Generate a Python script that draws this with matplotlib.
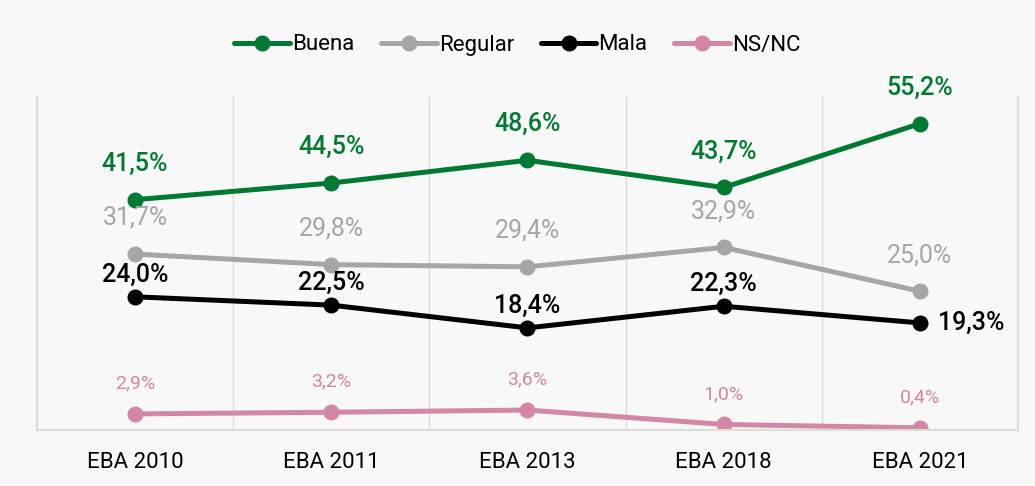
import matplotlib.pyplot as plt
import numpy as np

years = ['EBA 2010', 'EBA 2011', 'EBA 2013', 'EBA 2018', 'EBA 2021']
buena = [41.5, 44.5, 48.6, 43.7, 55.2]
regular = [31.7, 29.8, 29.4, 32.9, 25.0]
mala = [24.0, 22.5, 18.4, 22.3, 19.3]
nsnc = [2.9, 3.2, 3.6, 1.0, 0.4]

plt.rcParams['font.family'] = ['Roboto', 'DejaVu Sans']

fig = plt.figure(figsize=(10.35, 4.86), dpi=100, facecolor='#f8f8f8')
ax = fig.add_axes([0.0357, 0.1152, 0.9479, 0.6852])
ax.set_facecolor('#f8f8f8')

x = np.arange(len(years))
series = [
    ('Buena', buena, '#007a33', 18, 'medium', 26),
    ('Regular', regular, '#a6a6a6', 18, 'normal', 26),
    ('Mala', mala, '#000000', 18, 'medium', 16),
    ('NS/NC', nsnc, '#d486a6', 14, 'normal', 22),
]

for name, vals, col, fs, fw, off in series:
    ax.plot(x, vals, color=col, lw=3.6, marker='o', ms=10.5, label=name,
            solid_capstyle='round')
    for i, v in enumerate(vals):
        txt = f'{v:.1f}%'.replace('.', ',')
        if name == 'Mala' and i == len(vals) - 1:
            ax.annotate(txt, (i, v), xytext=(13, 0), textcoords='offset points',
                        ha='left', va='center', fontsize=fs, color=col,
                        fontweight=fw)
        else:
            ax.annotate(txt, (i, v), xytext=(0, off), textcoords='offset points',
                        ha='center', va='center', fontsize=fs, color=col,
                        fontweight=fw)

ax.set_xlim(-0.5, 4.5)
ax.set_ylim(0, 60)
ax.set_xticks(x)
ax.set_xticklabels(years, fontsize=16)
ax.set_xticks(np.arange(-0.5, 5, 1), minor=True)
ax.tick_params(axis='x', which='both', length=0, pad=16)
ax.set_yticks([])
ax.grid(axis='x', which='minor', color='#dcdcdc', lw=1)
for s in ['left', 'right', 'bottom']:
    ax.spines[s].set_color('#dcdcdc')
    ax.spines[s].set_linewidth(1.5)
ax.spines['top'].set_visible(False)

fig.legend(loc='center', bbox_to_anchor=(0.5, 1 - 45 / 486), ncol=4,
           frameon=False, fontsize=16, handlelength=2.5, handletextpad=0.1,
           columnspacing=1.2)

fig.savefig('out.png', dpi=100, facecolor=fig.get_facecolor())
